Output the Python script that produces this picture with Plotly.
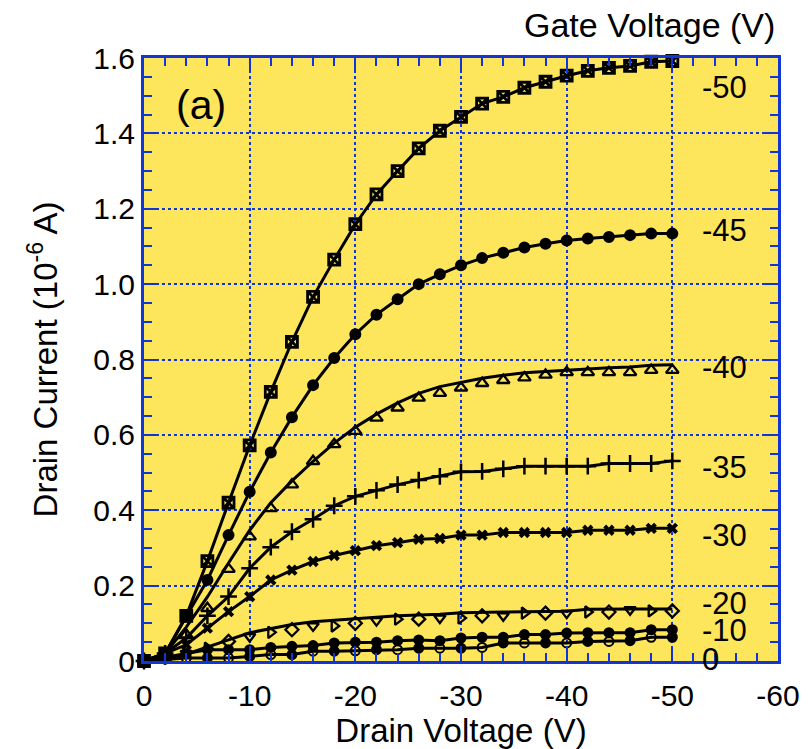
import plotly.graph_objects as go

# Drain voltage (V)
vd = [0, -2, -4, -6, -8, -10, -12, -14, -16, -18, -20, -22, -24, -26, -28,
      -30, -32, -34, -36, -38, -40, -42, -44, -46, -48, -50]

# Drain current (1e-6 A), measured points per gate voltage
id_m50 = [0, 0.02, 0.12, 0.265, 0.42, 0.572, 0.714, 0.847, 0.966, 1.065, 1.159, 1.238, 1.30,
          1.36, 1.407, 1.444, 1.479, 1.497, 1.521, 1.537, 1.553, 1.566, 1.574, 1.579, 1.59, 1.592]
id_m45 = [0, 0.02, 0.118, 0.215, 0.334, 0.449, 0.553, 0.647, 0.732, 0.804, 0.867, 0.919, 0.960,
          1.0, 1.026, 1.05, 1.069, 1.083, 1.097, 1.107, 1.116, 1.121, 1.125, 1.13, 1.134, 1.134]
id_m40 = [0, 0.01, 0.07, 0.14, 0.244, 0.33, 0.405, 0.468, 0.53, 0.575, 0.61, 0.645, 0.672,
          0.698, 0.711, 0.725, 0.737, 0.745, 0.752, 0.759, 0.766, 0.766, 0.766, 0.766, 0.772, 0.772]
id_m35 = [0, 0.02, 0.061, 0.12, 0.171, 0.246, 0.302, 0.343, 0.376, 0.412, 0.437, 0.453, 0.468,
          0.48, 0.49, 0.502, 0.503, 0.51, 0.517, 0.517, 0.517, 0.517, 0.524, 0.524, 0.524, 0.531]
id_m30 = [0, 0.02, 0.043, 0.087, 0.131, 0.171, 0.215, 0.241, 0.264, 0.28, 0.293, 0.306, 0.314,
          0.323, 0.325, 0.334, 0.334, 0.341, 0.341, 0.341, 0.341, 0.347, 0.347, 0.347, 0.352, 0.352]
id_m20 = [0, 0.01, 0.02, 0.034, 0.052, 0.065, 0.076, 0.083, 0.093, 0.093, 0.1, 0.107, 0.111,
          0.111, 0.114, 0.114, 0.12, 0.12, 0.127, 0.127, 0.127, 0.13, 0.13, 0.136, 0.133, 0.133]
id_m10 = [0, 0.01, 0.02, 0.03, 0.03, 0.03, 0.036, 0.039, 0.041, 0.048, 0.05, 0.05, 0.054,
          0.056, 0.054, 0.061, 0.063, 0.063, 0.07, 0.07, 0.074, 0.075, 0.075, 0.075, 0.083, 0.083]
id_0 = [0, 0.005, 0.008, 0.008, 0.008, 0.012, 0.017, 0.017, 0.026, 0.026, 0.027, 0.03, 0.03,
        0.034, 0.034, 0.034, 0.036, 0.048, 0.048, 0.048, 0.048, 0.052, 0.052, 0.054, 0.063, 0.063]

# Model curves (lines) where they depart from the points
fit_m40 = [0, 0.02, 0.09, 0.17, 0.26, 0.347, 0.42, 0.478, 0.53, 0.578, 0.62, 0.655, 0.685,
           0.71, 0.728, 0.74, 0.75, 0.758, 0.765, 0.768, 0.772, 0.775, 0.778, 0.78, 0.785, 0.786]
fit_m20 = [0, 0.005, 0.018, 0.038, 0.056, 0.075, 0.087, 0.097, 0.104, 0.108, 0.112, 0.117, 0.12,
           0.122, 0.124, 0.128, 0.13, 0.13, 0.131, 0.131, 0.132, 0.137, 0.138, 0.138, 0.138, 0.138]

sym_m20 = ["triangle-right-open", "diamond-open", "triangle-down-open"] * 9
sym_0 = ["circle-open", "circle"] * 13

gate_labels = ["-50", "-45", "-40", "-35", "-30", "-20", "-10", "0"]
gate_label_y = [1.523, 1.142, 0.779, 0.513, 0.333, 0.152, 0.080, 0.004]

xticks = [0, -10, -20, -30, -40, -50, -60]
yticks = [0, 0.2, 0.4, 0.6, 0.8, 1.0, 1.2, 1.4, 1.6]
yticktext = ["0", "0.2", "0.4", "0.6", "0.8", "1.0", "1.2", "1.4", "1.6"]

BLUE = "#1236d6"
YELLOW = "#FDE65C"
FONT = "Liberation Sans, Arial, sans-serif"
LW = 3

fig = go.Figure()

def add(y, symbol, size, mode="lines+markers", lw=LW, mlw=2):
    fig.add_trace(go.Scatter(
        x=vd, y=y, mode=mode, cliponaxis=False, showlegend=False,
        line=dict(color="black", width=lw),
        marker=dict(symbol=symbol, size=size, color="black",
                    line=dict(color="black", width=mlw)),
    ))

add(id_m50, "square-x-open", 11, mlw=2.8)
add(id_m45, "circle", 10)
fig.add_trace(go.Scatter(x=vd, y=fit_m40, mode="lines", showlegend=False,
                         line=dict(color="black", width=LW)))
add(id_m40, "triangle-up-open", 11, mode="markers", mlw=2.3)
add(id_m35, "cross-thin-open", 12, mlw=2.5)
add(id_m30, "x", 10, mlw=0)
fig.add_trace(go.Scatter(x=vd, y=fit_m20, mode="lines", showlegend=False,
                         line=dict(color="black", width=LW)))
add(id_m20, sym_m20, 10, mode="markers", mlw=2.3)
add(id_m10, "circle", 9)
add(id_0, sym_0, 9)

for lab, yy in zip(gate_labels, gate_label_y):
    fig.add_annotation(x=-52.6, y=yy, text=lab, showarrow=False, xanchor="left",
                       yanchor="middle", font=dict(size=31, color="black", family=FONT))

fig.add_annotation(x=-5.35, y=1.476, text="(a)", showarrow=False,
                   font=dict(size=41, color="black", family=FONT))
fig.add_annotation(x=0.998, y=1.0545, xref="paper", yref="paper", text="Gate Voltage (V)",
                   showarrow=False, xanchor="right", yanchor="middle",
                   font=dict(size=34, color="black", family=FONT))

axis_common = dict(
    showline=True, linecolor=BLUE, linewidth=3, mirror="ticks",
    ticks="inside", tickcolor=BLUE, tickwidth=2, ticklen=15,
    showgrid=True, gridcolor=BLUE, gridwidth=2, griddash="dot",
    zeroline=False, tickfont=dict(size=30, color="black", family=FONT),
)

fig.update_xaxes(
    range=[0, -60], tickvals=xticks, ticktext=[str(v) for v in xticks],
    ticklabelstandoff=6,
    minor=dict(dtick=2, ticks="inside", ticklen=8, tickcolor=BLUE, tickwidth=2, showgrid=False),
    title=dict(text="Drain Voltage (V)", font=dict(size=33, color="black", family=FONT), standoff=2),
    **axis_common,
)
fig.update_yaxes(
    range=[0, 1.6], tickvals=yticks, ticktext=yticktext,
    minor=dict(dtick=0.05, ticks="inside", ticklen=8, tickcolor=BLUE, tickwidth=2, showgrid=False),
    title=dict(text="Drain Current (10<sup>-6</sup> A)", font=dict(size=33, color="black", family=FONT), standoff=26),
    **axis_common,
)

fig.update_layout(
    width=812, height=749,
    margin=dict(l=144, r=29, t=58, b=86),
    plot_bgcolor=YELLOW, paper_bgcolor="white",
    font=dict(family=FONT, color="black"),
)

fig.write_html("out.html")
